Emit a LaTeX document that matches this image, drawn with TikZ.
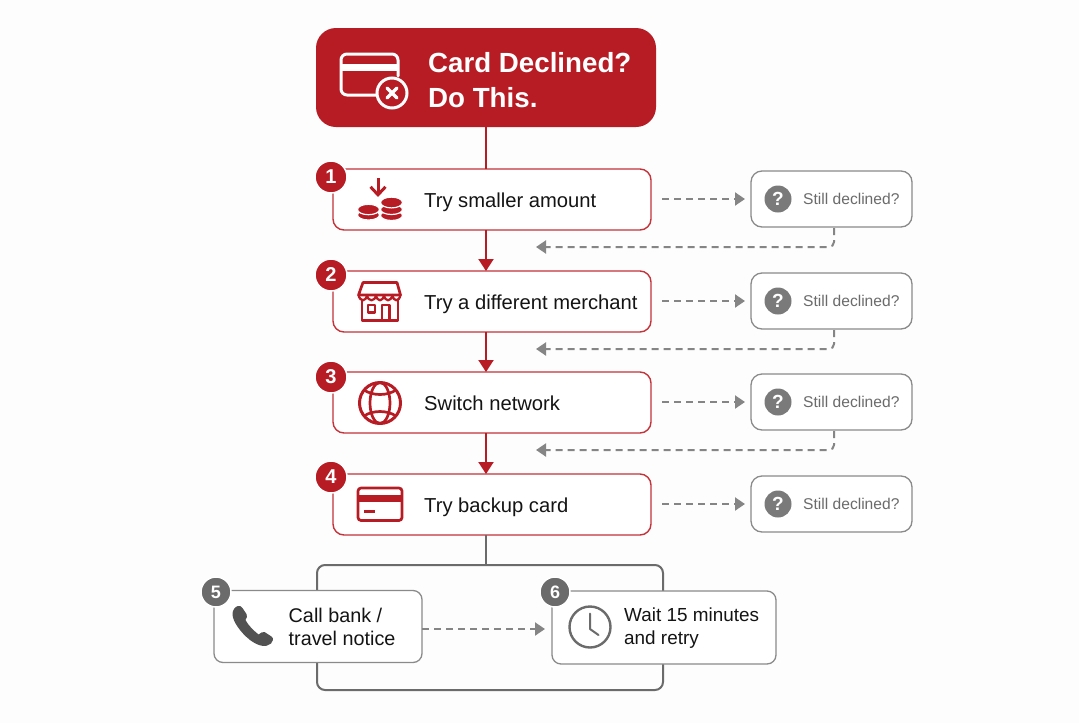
\documentclass[tikz,border=0pt]{standalone}
\usepackage{fontspec}
\setmainfont{Liberation Sans}
\usetikzlibrary{arrows.meta, calc}
\definecolor{cardred}{HTML}{B71C24}
\definecolor{edgered}{HTML}{C4323A}
\definecolor{dashgray}{HTML}{858585}
\definecolor{edgegray}{HTML}{8A8A8A}
\definecolor{darkgray}{HTML}{6B6B6B}
\definecolor{paper}{HTML}{FDFDFD}
\tikzset{
    title-box/.style={
        rectangle, fill=cardred, rounded corners=20pt, minimum width=340pt, minimum height=99pt, outer sep=0pt
    },
    step-box/.style={
        rectangle, draw=edgered, fill=white, line width=1.4pt, rounded corners=11pt, minimum width=318pt, minimum height=61pt, outer sep=0pt
    },
    check-box/.style={
        rectangle, draw=edgegray, fill=white, line width=1.3pt, rounded corners=11pt, minimum width=161pt, minimum height=56pt, outer sep=0pt
    },
    last-box/.style={
        rectangle, draw=edgegray, fill=white, line width=1.3pt, rounded corners=9pt, outer sep=0pt
    },
    bracket-box/.style={
        rectangle, draw=darkgray, line width=2pt, rounded corners=8pt, minimum width=346pt, minimum height=125pt, outer sep=0pt
    },
    red-badge/.style={
        circle, fill=cardred, draw=white, line width=1.5pt, minimum size=32pt, inner sep=0pt, text=white, font=\fontsize{20}{20}\selectfont\bfseries
    },
    gray-badge/.style={
        circle, fill=darkgray, draw=white, line width=1.5pt, minimum size=30pt, inner sep=0pt, text=white, font=\fontsize{18}{18}\selectfont\bfseries
    },
    ask-badge/.style={
        circle, fill=darkgray!90, minimum size=27pt, inner sep=0pt, text=white, font=\fontsize{19}{19}\selectfont\bfseries
    },
    step-text/.style={anchor=west, inner sep=0pt, text=black!92, align=left, font=\fontsize{20.2}{23}\selectfont},
    check-text/.style={anchor=west, inner sep=0pt, text=darkgray, font=\fontsize{15.6}{18}\selectfont},
    red-line/.style={draw=cardred, line width=2pt},
    red-arrow/.style={red-line, -{Triangle[length=12pt,width=15pt]}},
    back-line/.style={draw=dashgray, line width=2pt, dash pattern=on 7pt off 5pt},
    gray-arrow/.style={back-line, -{Triangle[length=10pt,width=13pt]}},
    red-icon/.style={draw=cardred, line width=2.7pt, line join=round},
    coin/.style={fill=cardred, draw=white, line width=1.2pt},
}

\begin{document}
\begin{tikzpicture}[x=1pt, y=-1pt]

        \useasboundingbox[fill=paper] (0,0) rectangle (1079,723);

        % COLUMN OF THE MAIN LINE
        \coordinate (MID) at (486,0);

        % TITLE
        \node[title-box] (TITLE) at (486,77.5) {};
        \node[anchor=west, inner sep=0pt, text=white, align=left, font=\fontsize{27.7}{34.5}\selectfont\bfseries] (TITLETEXT) at (428,80) {Card Declined?\\Do This.};

        % STEPS
        \node[step-box] (S1) at (492,199.5) {};
        \node[step-box] (S2) at (492,301.5) {};
        \node[step-box] (S3) at (492,402.5) {};
        \node[step-box] (S4) at (492,504.5) {};

        % STILL DECLINED
        \node[check-box] (C1) at (831.5,199) {};
        \node[check-box] (C2) at (831.5,301) {};
        \node[check-box] (C3) at (831.5,402) {};
        \node[check-box] (C4) at (831.5,504) {};

        % BRACKET UNDER STEP 4
        \node[bracket-box] (BRACKET) at (490,627.5) {};

        % LAST TWO STEPS
        \node[last-box, minimum width=208pt, minimum height=72pt] (S5) at (318,626.5) {};
        \node[last-box, minimum width=224pt, minimum height=73pt] (S6) at (664,627.5) {};

        % ENDS OF THE WAY BACK
        \coordinate (BACK1) at (536,247);
        \coordinate (BACK2) at (536,349);
        \coordinate (BACK3) at (536,450);

        % MAIN LINE
        \draw[red-line]  (TITLE.south) -- (S1.north -| MID);
        \draw[red-arrow] (S1.south -| MID) -- (S2.north -| MID);
        \draw[red-arrow] (S2.south -| MID) -- (S3.north -| MID);
        \draw[red-arrow] (S3.south -| MID) -- (S4.north -| MID);
        \draw[draw=darkgray, line width=2pt] (S4.south -| MID) -- (BRACKET.north -| MID);

        % OUT TO STILL DECLINED
        \draw[gray-arrow, shorten <=11pt, shorten >=6pt] (S1.east |- C1.west) -- (C1.west);
        \draw[gray-arrow, shorten <=11pt, shorten >=6pt] (S2.east |- C2.west) -- (C2.west);
        \draw[gray-arrow, shorten <=11pt, shorten >=6pt] (S3.east |- C3.west) -- (C3.west);
        \draw[gray-arrow, shorten <=11pt, shorten >=6pt] (S4.east |- C4.west) -- (C4.west);

        % BACK TO THE NEXT STEP
        \draw[gray-arrow, rounded corners=5pt] ($(C1.south)+(2.5,1)$) |- (BACK1);
        \draw[gray-arrow, rounded corners=5pt] ($(C2.south)+(2.5,1)$) |- (BACK2);
        \draw[gray-arrow, rounded corners=5pt] ($(C3.south)+(2.5,1)$) |- (BACK3);

        % STEP 5 TO STEP 6
        \draw[gray-arrow, shorten >=7pt] ($(S5.east)+(0,2.5)$) -- ($(S6.west)+(0,1.5)$);

        % BADGES
        \node[red-badge] (B1) at (331,177) {1};
        \node[red-badge] (B2) at (331,275) {2};
        \node[red-badge] (B3) at (331,377) {3};
        \node[red-badge] (B4) at (331,477) {4};
        \node[gray-badge] (B5) at (216,592) {5};
        \node[gray-badge] (B6) at (555,592) {6};

        % TEXTS
        \node[step-text] (T1) at (424,202) {Try smaller amount};
        \node[step-text] (T2) at (424,304) {Try a different merchant};
        \node[step-text] (T3) at (424,403) {Switch network};
        \node[step-text] (T4) at (424,507) {Try backup card};
        \node[step-text, font=\fontsize{19.8}{23}\selectfont] (T5) at (288.5,627) {Call bank /\\travel notice};
        \node[step-text, font=\fontsize{18.9}{23}\selectfont] (T6) at (624,628) {Wait 15 minutes\\and retry};

        \node[ask-badge] (Q1) at (778,199) {?};
        \node[ask-badge] (Q2) at (778,301) {?};
        \node[ask-badge] (Q3) at (778,402) {?};
        \node[ask-badge] (Q4) at (778,504) {?};
        \node[check-text] (D1) at (803,199) {Still declined?};
        \node[check-text] (D2) at (803,301) {Still declined?};
        \node[check-text] (D3) at (803,402) {Still declined?};
        \node[check-text] (D4) at (803,504) {Still declined?};

        % ICON, CARD WITH CROSS
        \draw[white, line width=3pt, rounded corners=6pt, line cap=round] (378,95) -- (341,95) -- (341,54) -- (398,54) -- (398,76);
        \fill[white] (341,64) rectangle (398,70.5);
        \draw[white, line width=3pt, fill=cardred] (392,93) circle (15pt);
        \draw[white, line width=3.2pt, line cap=round] (387,88) -- (397,98) (397,88) -- (387,98);

        % ICON, COINS
        \draw[coin] (368.5,215) ellipse (11pt and 5pt);
        \draw[coin] (368.5,209.5) ellipse (11pt and 5.2pt);
        \draw[coin] (391.5,215.5) ellipse (11pt and 5pt);
        \draw[coin] (391.5,209.5) ellipse (11pt and 5pt);
        \draw[coin] (391.5,202.5) ellipse (11pt and 5.4pt);
        \draw[draw=cardred, line width=3pt, -{Straight Barb[length=8pt,width=15pt]}] (378,178) -- (378,197);

        % ICON, SHOP
        \draw[red-icon] (363,282.5) -- (397,282.5) -- (400.5,295) -- (358.5,295) -- cycle;
        \draw[red-icon, line width=2.3pt] (358.5,295) .. controls (360,302) and (366,302) .. (367,295) .. controls (368,302) and (375,302) .. (376,295) .. controls (377,302) and (383,302) .. (384,295) .. controls (385,302) and (391,302) .. (392.5,295) .. controls (393.5,302) and (399,302) .. (400.5,295);
        \draw[red-icon] (362,300) -- (362,320.5) -- (398,320.5) -- (398,300);
        \draw[red-icon, line width=2.3pt] (368,305) rectangle (375,312.5);
        \draw[red-icon, line width=2.3pt] (382,320.5) -- (382,305) -- (389.5,305) -- (389.5,320.5);

        % ICON, GLOBE
        \draw[red-icon, line width=3pt] (380,403) circle (20.5pt);
        \draw[red-icon] (380,403) ellipse (10pt and 20.5pt);
        \draw[red-icon] (364,390) .. controls (373,396) and (387,396) .. (396,390);
        \draw[red-icon] (364,416) .. controls (373,410) and (387,410) .. (396,416);

        % ICON, CARD
        \draw[red-icon, rounded corners=3pt] (358,488) rectangle (402,520.5);
        \fill[cardred] (358,494.5) rectangle (402,501.5);
        \draw[red-icon, line width=2.2pt] (364,511.5) -- (375,511.5);

        % ICON, PHONE
        \fill[black!68] (237.7,606) .. controls (240,605.5) and (241.5,606.5) .. (242.5,608) -- (246.5,614) .. controls (247.5,616) and (247,618) .. (245.5,620) .. controls (248,625) and (253,630) .. (258.5,634.5) .. controls (260.5,633) and (262.5,631.5) .. (264.5,632) -- (271.5,636.5) .. controls (274,638.5) and (273,641.5) .. (271,643.5) .. controls (266,648) and (258,646) .. (250,640) .. controls (240,632) and (232.5,621) .. (232.5,614) .. controls (232.5,610) and (235,607) .. (237.7,606) -- cycle;

        % ICON, CLOCK
        \draw[draw=darkgray, line width=2.4pt] (590,627) circle (20.5pt);
        \draw[draw=darkgray, line width=2pt, line cap=round, line join=round] (590,613.5) -- (590,629) -- (598.5,635);

    \end{tikzpicture}
\end{document}
